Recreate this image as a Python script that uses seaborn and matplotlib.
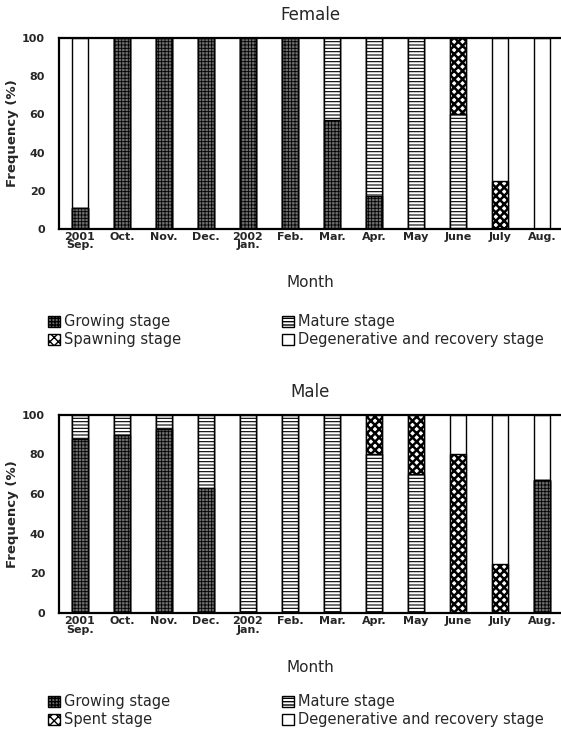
import matplotlib
matplotlib.use("Agg")
import matplotlib.pyplot as plt
from matplotlib.patches import Patch
import seaborn as sns
import pandas as pd
import numpy as np

months = ["2001\nSep.", "Oct.", "Nov.", "Dec.", "2002\nJan.", "Feb.", "Mar.",
          "Apr.", "May", "June", "July", "Aug."]

# Female (%)
f_growing = [11, 100, 100, 100, 100, 100, 57, 17, 0, 0, 0, 0]
f_mature = [0, 0, 0, 0, 0, 0, 43, 83, 100, 60, 0, 0]
f_spawning = [0, 0, 0, 0, 0, 0, 0, 0, 0, 40, 25, 0]
f_degen = [89, 0, 0, 0, 0, 0, 0, 0, 0, 0, 75, 100]

# Male (%)
m_growing = [88, 90, 93, 63, 0, 0, 0, 0, 0, 0, 0, 67]
m_mature = [12, 10, 7, 37, 100, 100, 100, 80, 70, 0, 0, 0]
m_spent = [0, 0, 0, 0, 0, 0, 0, 20, 30, 80, 25, 0]
m_degen = [0, 0, 0, 0, 0, 0, 0, 0, 0, 20, 75, 33]

sns.set_style("white")
plt.rcParams["font.family"] = ["DejaVu Sans"]

# facecolor, hatch, hatch linewidth
styles = [
    ("#6e6e6e", "+++++", 0.6),   # growing
    ("white", "-----", 0.8),     # mature
    ("white", "xxxx", 1.8),      # spawning / spent
    ("white", None, 0.8),        # degenerative
]


def stacked(ax, layers, title):
    cum = np.cumsum(np.array(layers), axis=0)
    # draw from the top layer down so each lower layer covers the one above
    for i in range(len(layers) - 1, -1, -1):
        fc, hatch, hlw = styles[i]
        df = pd.DataFrame({"month": months, "value": cum[i]})
        with plt.rc_context({"hatch.linewidth": hlw}):
            sns.barplot(data=df, x="month", y="value", order=months, ax=ax,
                        width=0.4, edgecolor="black", linewidth=1.0,
                        facecolor=fc, hatch=hatch)
    ax.set_xlim(-0.5, 11.45)
    ax.set_ylim(0, 100)
    ax.set_yticks([0, 20, 40, 60, 80, 100])
    ax.set_yticklabels([0, 20, 40, 60, 80, 100], fontsize=8, fontweight="bold")
    ax.set_xticks(range(12))
    ax.set_xticklabels(months, fontsize=8, fontweight="bold", linespacing=0.85)
    ax.set_xticks(np.arange(0.5, 11, 1), minor=True)
    ax.tick_params(axis="x", which="major", length=0, pad=2)
    ax.tick_params(axis="x", which="minor", direction="in", length=3, width=1)
    ax.tick_params(axis="y", direction="in", length=0, pad=10)
    ax.set_ylabel("Frequency (%)", fontsize=9.5, fontweight="bold", labelpad=2)
    ax.set_xlabel("Month", fontsize=11, labelpad=18)
    ax.set_title(title, fontsize=12, pad=13)
    for s in ax.spines.values():
        s.set_linewidth(1.6)
        s.set_color("black")
    ax.spines["right"].set_visible(False)


def legend_rows(y, third_name):
    kw = dict(loc="upper left", frameon=False, fontsize=10.5, handlelength=0.8,
              handleheight=0.8, handletextpad=0.3, labelspacing=0.2, borderpad=0)
    left = [
        Patch(facecolor="#6e6e6e", hatch="+++++", edgecolor="black", label="Growing stage"),
        Patch(facecolor="white", hatch="xxxx", edgecolor="black", label=third_name),
    ]
    right = [
        Patch(facecolor="white", hatch="-----", edgecolor="black", label="Mature stage"),
        Patch(facecolor="white", edgecolor="black", label="Degenerative and recovery stage"),
    ]
    fig.legend(handles=left, bbox_to_anchor=(0.073, y), **kw)
    fig.legend(handles=right, bbox_to_anchor=(0.49, y), **kw)


fig = plt.figure(figsize=(5.61, 7.29), dpi=100)
ax1 = fig.add_axes([0.105, 0.686, 0.895, 0.262])
ax2 = fig.add_axes([0.105, 0.159, 0.895, 0.272])

stacked(ax1, [f_growing, f_mature, f_spawning, f_degen], "Female")
stacked(ax2, [m_growing, m_mature, m_spent, m_degen], "Male")

legend_rows(1 - 307 / 729, "Spawning stage")
legend_rows(1 - 687 / 729, "Spent stage")

fig.savefig("out.png", dpi=100)
